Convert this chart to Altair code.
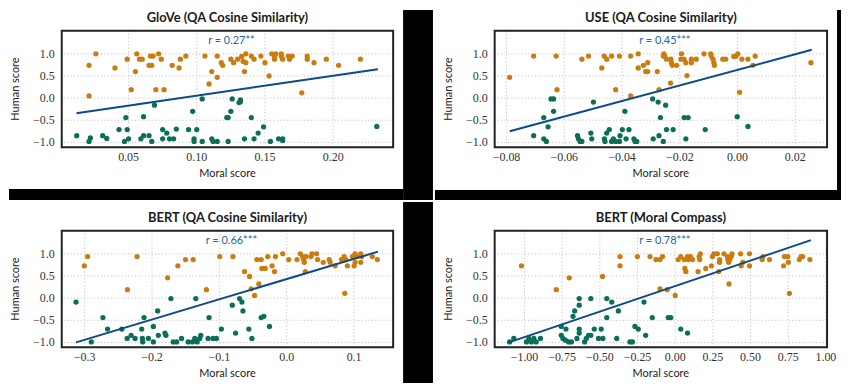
import altair as alt
import pandas as pd

# ---------------- data ----------------
y_ticks = [-1.0, -0.5, 0.0, 0.5, 1.0]
y_domain = [-1.11, 1.52]

# GloVe (QA Cosine Similarity)
glove_x = [0.021, 0.021, 0.026, 0.040, 0.049, 0.052, 0.056, 0.055, 0.058, 0.060,
           0.065, 0.066, 0.067, 0.068, 0.072, 0.070, 0.074, 0.076, 0.082, 0.087,
           0.088, 0.092, 0.106, 0.109, 0.111, 0.115, 0.115, 0.118, 0.119, 0.125,
           0.127, 0.130, 0.133, 0.134, 0.136, 0.135, 0.136, 0.140, 0.142, 0.147,
           0.150, 0.153, 0.155, 0.157, 0.157, 0.158, 0.162, 0.162, 0.163, 0.167,
           0.168, 0.170, 0.181, 0.181, 0.186, 0.195, 0.204, 0.220, 0.177,
           0.012, 0.021, 0.022, 0.031, 0.034, 0.043, 0.048, 0.049, 0.047, 0.050,
           0.059, 0.061, 0.061, 0.065, 0.067, 0.069, 0.075, 0.075, 0.078, 0.080,
           0.083, 0.085, 0.094, 0.097, 0.098, 0.098, 0.100, 0.104, 0.104, 0.111,
           0.112, 0.115, 0.122, 0.123, 0.125, 0.126, 0.123, 0.131, 0.132, 0.132,
           0.135, 0.140, 0.142, 0.145, 0.149, 0.154, 0.160, 0.163, 0.163, 0.232]
glove_y = [0.74, 0.05, 1.00, 0.68, 0.88, 0.19, 1.00, 0.60, 0.88, 0.88,
           0.74, 0.95, 0.74, 0.95, 1.00, 0.19, 0.88, 0.19, 0.74, 0.68,
           0.88, 0.95, 0.95, 0.32, 0.60, 0.95, 0.47, 0.80, 0.74, 0.88,
           0.80, 0.88, 0.94, 0.83, 1.00, 0.60, 0.80, 0.95, 0.88, 0.95,
           0.80, 0.50, 1.00, 0.95, 0.88, 1.00, 0.95, 1.00, 0.88, 0.95,
           0.88, 0.95, 0.95, 0.88, 0.80, 0.88, 0.74, 0.88, 0.12,
           -0.85, -0.98, -0.90, -0.85, -0.91, -0.71, -0.44, -0.71, -0.98, -0.92,
           -0.92, -0.85, -0.42, -0.85, -0.98, -0.16, -0.71, -0.92, -0.79, -0.92,
           -0.92, -0.70, -0.71, -0.30, -0.92, -0.98, -0.71, -0.98, -0.02, -0.92,
           -0.98, -0.98, -0.44, -0.44, -0.30, -0.02, -0.98, -0.10, -0.08, -0.04,
           -0.92, -0.44, -0.92, -0.79, -0.65, -0.98, -0.92, -0.96, -0.92, -0.64]

# USE (QA Cosine Similarity)
use_x = [-0.0789, -0.0706, -0.0628, -0.0625, -0.0539, -0.0516, -0.0470, -0.0462, -0.0453, -0.0436,
         -0.0422, -0.0409, -0.0370, -0.0370, -0.0344, -0.0344, -0.0326, -0.0318, -0.0311, -0.0311,
         -0.0278, -0.0272, -0.0257, -0.0255, -0.0252, -0.0246, -0.0231, -0.0229, -0.0232, -0.0226,
         -0.0211, -0.0194, -0.0196, -0.0185, -0.0179, -0.0175, -0.0160, -0.0160, -0.0143, -0.0116,
         -0.0093, -0.0091, -0.0085, -0.0082, -0.0080, -0.0051, -0.0041, -0.0013, -0.0005, 0.0001,
         0.0015, 0.0007, 0.0036, 0.0053, 0.0061, 0.0254,
         -0.0706, -0.0671, -0.0662, -0.0671, -0.0656, -0.0646, -0.0637, -0.0637, -0.0554, -0.0551,
         -0.0545, -0.0539, -0.0508, -0.0505, -0.0499, -0.0461, -0.0459, -0.0453, -0.0444, -0.0436,
         -0.0430, -0.0422, -0.0409, -0.0407, -0.0399, -0.0390, -0.0386, -0.0376, -0.0359, -0.0355,
         -0.0349, -0.0294, -0.0292, -0.0275, -0.0272, -0.0267, -0.0257, -0.0249, -0.0246, -0.0223,
         -0.0185, -0.0171, -0.0179, -0.0112, -0.0001, 0.0036]
use_y = [0.47, 0.95, 0.95, 0.19, 0.88, 0.95, 0.68, 0.95, 0.88, 0.95,
         0.19, 0.95, 0.95, 0.05, 1.00, 0.68, 0.74, 0.60, 0.80, 0.60,
         0.60, 0.19, 0.95, 1.00, 0.95, 0.88, 0.88, 0.80, 0.34, 0.74,
         0.74, 1.00, 0.88, 0.88, 0.80, 0.51, 0.88, 0.80, 0.88, 1.00,
         1.00, 0.95, 0.88, 0.80, 0.74, 0.88, 0.88, 0.94, 0.95, 1.00,
         0.88, 0.13, 0.88, 0.74, 0.95, 0.80,
         -0.85, -0.92, -0.98, -0.44, -0.65, -0.02, -0.02, -0.30, -0.85, -0.92,
         -0.98, -0.98, -0.79, -0.92, -0.09, -0.92, -0.98, -0.79, -0.71, -0.98,
         -0.92, -0.98, -0.98, -0.85, -0.71, -0.30, -0.92, -0.71, -0.92, -0.98,
         -0.98, -0.02, -0.92, -0.09, -0.85, -0.44, -0.98, -0.16, -0.71, -0.71,
         -0.44, -0.44, -0.92, -0.71, -0.42, -0.64]

# BERT (QA Cosine Similarity)
bqa_x = [-0.3005, -0.2956, -0.2365, -0.2222, -0.1768, -0.1616, -0.1502, -0.1389, -0.1192, -0.0995,
         -0.0798, -0.0626, -0.0552, -0.0527, -0.0478, -0.0443, -0.0414, -0.0379, -0.0369, -0.0320,
         -0.0281, -0.0217, -0.0182, -0.0167, -0.0059, 0.0030, 0.0153, 0.0202, 0.0236, 0.0251,
         0.0261, 0.0286, 0.0276, 0.0360, 0.0374, 0.0443, 0.0458, 0.0542, 0.0630, 0.0645,
         0.0719, 0.0813, 0.0852, 0.0877, 0.0901, 0.0862, 0.0975, 0.1000, 0.1015, 0.1015,
         0.1039, 0.1099, 0.1113, 0.1099, 0.1271, 0.1345,
         -0.3128, -0.2901, -0.2729, -0.2660, -0.2448, -0.2369, -0.2310, -0.2251, -0.2153, -0.2143,
         -0.2138, -0.2118, -0.2054, -0.1980, -0.1980, -0.1916, -0.1906, -0.1808, -0.1793, -0.1719,
         -0.1685, -0.1635, -0.1562, -0.1463, -0.1399, -0.1365, -0.1350, -0.1330, -0.1276, -0.1291,
         -0.1167, -0.1153, -0.1094, -0.1044, -0.0970, -0.0808, -0.0759, -0.0700, -0.0665, -0.0650,
         -0.0562, -0.0517, -0.0379, -0.0340, -0.0256]
bqa_y = [0.73, 0.94, 0.19, 0.94, 0.46, 0.73, 0.87, 0.87, 0.19, 0.94,
         0.94, 0.60, 0.49, 0.21, 0.06, 0.87, 0.32, 0.87, 0.67, 0.67,
         0.94, 0.73, 0.60, 0.94, 1.00, 0.87, 0.87, 1.00, 0.94, 0.87,
         0.81, 0.94, 0.60, 0.94, 1.00, 1.00, 0.87, 0.81, 0.87, 0.81,
         0.73, 0.87, 0.94, 0.87, 0.73, 0.11, 0.94, 0.73, 1.00, 0.81,
         0.94, 1.00, 0.94, 0.81, 0.94, 0.87,
         -0.09, -0.99, -0.44, -0.70, -0.70, -0.91, -0.84, -0.91, -0.70, -0.91,
         -0.99, -0.44, -0.91, -0.64, -0.99, -0.29, -0.84, -0.79, -0.84, -0.01,
         -0.99, -0.99, -0.91, -0.99, -0.99, -0.91, -0.01, -0.99, -0.84, -0.91,
         -0.91, -0.44, -0.91, -0.91, -0.70, -0.16, -0.79, -0.01, -0.09, -0.29,
         -0.70, -0.91, -0.44, -0.41, -0.64]

# BERT (Moral Compass)
bmc_x = [-1.020, -0.789, -0.703, -0.482, -0.366, -0.366, -0.251, -0.167, -0.128, -0.101,
         -0.084, -0.101, -0.053, 0.000, 0.020, 0.037, 0.060, 0.064, 0.071, 0.082,
         0.086, 0.101, 0.115, 0.152, 0.167, 0.159, 0.163, 0.203, 0.240, 0.247,
         0.258, 0.280, 0.289, 0.295, 0.295, 0.324, 0.346, 0.350, 0.355, 0.361,
         0.357, 0.377, 0.372, 0.434, 0.438, 0.449, 0.493, 0.493, 0.577, 0.582,
         0.626, 0.720, 0.725, 0.747, 0.751, 0.758, 0.824, 0.835, 0.846, 0.894,
         -1.099, -1.071, -0.987, -0.971, -0.954, -0.938, -0.923, -0.894, -0.756, -0.756,
         -0.745, -0.729, -0.725, -0.707, -0.689, -0.678, -0.667, -0.652, -0.637, -0.637,
         -0.637, -0.637, -0.601, -0.590, -0.575, -0.560, -0.560, -0.537, -0.509, -0.491,
         -0.480, -0.454, -0.454, -0.421, -0.388, -0.377, -0.300, -0.284, -0.267, -0.245,
         -0.207, -0.196, -0.152, -0.046, -0.029, 0.037, 0.082]
bmc_y = [0.73, 0.19, 0.46, 0.49, 0.94, 0.73, 0.94, 0.94, 0.87, 0.87,
         0.94, 0.21, 0.19, 0.06, 0.87, 0.94, 0.87, 0.67, 0.60, 0.94,
         0.87, 0.94, 0.87, 0.60, 1.00, 0.94, 0.87, 0.67, 0.73, 0.94,
         1.00, 1.00, 0.60, 0.87, 0.81, 1.00, 0.94, 0.87, 0.81, 0.87,
         0.32, 1.00, 0.94, 1.00, 0.73, 0.81, 1.00, 0.73, 0.87, 0.94,
         0.87, 0.73, 0.94, 0.94, 0.81, 0.11, 0.87, 0.94, 0.94, 0.87,
         -0.99, -0.91, -0.99, -0.91, -0.99, -0.91, -0.99, -0.91, -0.64, -0.84,
         -0.91, -0.95, -0.70, -0.99, -0.99, -0.41, -0.29, -0.91, -0.01, -0.16,
         -0.70, -0.79, -0.99, -0.91, -0.84, -0.01, -0.84, -0.70, -0.91, -0.70,
         -0.91, -0.01, -0.44, -0.09, -0.91, -0.29, -0.99, -0.99, -0.64, -0.70,
         -0.09, -0.84, -0.44, -0.44, -0.44, -0.70, -0.79]

titles = ["GloVe (QA Cosine Similarity)", "USE (QA Cosine Similarity)",
          "BERT (QA Cosine Similarity)", "BERT (Moral Compass)"]
r_labels = ["r = 0.27**", "r = 0.45***", "r = 0.66***", "r = 0.78***"]
x_title = "Moral score"
y_title = "Human score"
fit_x = [[0.0118, 0.2328], [-0.0789, 0.0257], [-0.3128, 0.1355], [-1.1035, 0.9009]]
fit_y = [[-0.34, 0.65], [-0.75, 1.09], [-1.00, 1.05], [-1.00, 1.31]]
x_ticks = [[0.05, 0.10, 0.15, 0.20],
           [-0.08, -0.06, -0.04, -0.02, 0.00, 0.02],
           [-0.3, -0.2, -0.1, 0.0, 0.1],
           [-1.00, -0.75, -0.50, -0.25, 0.00, 0.25, 0.50, 0.75, 1.00]]
x_domains = [[0.001, 0.244], [-0.0841, 0.031], [-0.334, 0.158], [-1.198, 1.008]]
x_formats = [".2f", ".2f", ".1f", ".2f"]
xs_all = [glove_x, use_x, bqa_x, bmc_x]
ys_all = [glove_y, use_y, bqa_y, bmc_y]

# ---------------- style / layout ----------------
ORANGE = "#cc7c0e"
GREEN = "#0b6f57"
LINE = "#0c4a8b"
RTEXT = "#2a64a3"
SANS = "Lato"
SERIF = "Liberation Serif"
H = 117
widths = [333, 334, 333, 334]
# panel extents relative to the plot area (x0, x1, y0, y1) — used only to fix the layout
panel_boxes = [(-53, 343, -21, 159), (-60, 348, -21, 160),
               (-53, 343, -29, 153), (-60, 348, -29, 153)]
# black separator strips relative to each plot area (x0, x1, y0, y1)
strips = [
    [(343, 373, -21, 170), (-53, 343, 159, 170)],
    [(-60, 348, 160, 170), (344, 348, -21, 160)],
    [(343, 373, -29, 153)],
    [],
]

one = pd.DataFrame({"a": [0]})


def box(b, fill):
    return alt.Chart(one).mark_rect(fill=fill, strokeWidth=0).encode(
        x=alt.value(b[0]), x2=alt.value(b[1]), y=alt.value(b[2]), y2=alt.value(b[3]))


def make_panel(i):
    W = widths[i]
    xs = alt.Scale(domain=x_domains[i], nice=False, zero=False, padding=0)
    ys = alt.Scale(domain=y_domain, nice=False, zero=False, padding=0)

    layers = [box(panel_boxes[i], "transparent")]
    layers += [box(s, "#000000") for s in strips[i]]

    xt = pd.DataFrame({"t": x_ticks[i]})
    yt = pd.DataFrame({"t": y_ticks})

    vgrid = alt.Chart(xt).mark_rule(
        color="#c4c4c4", strokeDash=[1.2, 2.2], strokeWidth=1).encode(
        x=alt.X("t:Q", scale=xs, axis=None))
    hgrid = alt.Chart(yt).mark_rule(
        color="#c4c4c4", strokeDash=[1.2, 2.2], strokeWidth=1).encode(
        y=alt.Y("t:Q", scale=ys, axis=None))

    xlab = alt.Chart(xt).mark_text(
        font=SERIF, fontSize=12, color="#333", align="center", baseline="middle").encode(
        x=alt.X("t:Q", scale=xs, axis=None), y=alt.value(H + 10),
        text=alt.Text("t:Q", format=x_formats[i]))
    ylab = alt.Chart(yt).mark_text(
        font=SERIF, fontSize=12, color="#333", align="right", baseline="middle").encode(
        y=alt.Y("t:Q", scale=ys, axis=None), x=alt.value(-7),
        text=alt.Text("t:Q", format=".1f"))
    xttl = alt.Chart(one).mark_text(
        text=x_title, font=SANS, fontSize=11, color="#222", align="center",
        baseline="middle").encode(x=alt.value(W / 2), y=alt.value(H + 27))
    yttl = alt.Chart(one).mark_text(
        text=y_title, font=SANS, fontSize=11, color="#222", align="center",
        baseline="middle", angle=270).encode(x=alt.value(-46), y=alt.value(H / 2))

    df = pd.DataFrame({"moral": xs_all[i], "human": ys_all[i]})
    df["grp"] = ["pos" if v > 0 else "neg" for v in df["human"]]
    pts = alt.Chart(df).mark_circle(size=28, opacity=1).encode(
        x=alt.X("moral:Q", scale=xs, axis=None),
        y=alt.Y("human:Q", scale=ys, axis=None),
        color=alt.Color("grp:N", scale=alt.Scale(domain=["pos", "neg"], range=[ORANGE, GREEN]),
                        legend=None))

    fit = alt.Chart(pd.DataFrame({"fx": fit_x[i], "fy": fit_y[i]})).mark_line(
        color=LINE, strokeWidth=2).encode(
        x=alt.X("fx:Q", scale=xs, axis=None), y=alt.Y("fy:Q", scale=ys, axis=None))

    rtxt = alt.Chart(one).mark_text(
        text=r_labels[i], font=SANS, fontSize=11, color=RTEXT, align="center",
        baseline="middle").encode(x=alt.value(W / 2 + 4), y=alt.value(10.5))

    ttl = alt.Chart(one).mark_text(
        text=titles[i], font=SANS, fontSize=13, fontWeight="bold", color="#1a1a1a",
        align="center", baseline="middle").encode(x=alt.value(W / 2), y=alt.value(-13))

    frame = alt.Chart(one).mark_rect(filled=False, stroke="#222", strokeWidth=2).encode(
        x=alt.value(0), x2=alt.value(W), y=alt.value(0), y2=alt.value(H))

    layers += [vgrid, hgrid, xlab, ylab, xttl, yttl, pts, fit, rtxt, ttl, frame]
    return alt.layer(*layers).properties(width=W, height=H)


top = alt.hconcat(make_panel(0), make_panel(1), spacing=0)
bottom = alt.hconcat(make_panel(2), make_panel(3), spacing=0)
chart = alt.vconcat(top, bottom, spacing=0).properties(
    padding=0, background="white"
).configure_view(stroke="transparent")

chart.save("out.html", embed_options={"renderer": "svg", "actions": False})
